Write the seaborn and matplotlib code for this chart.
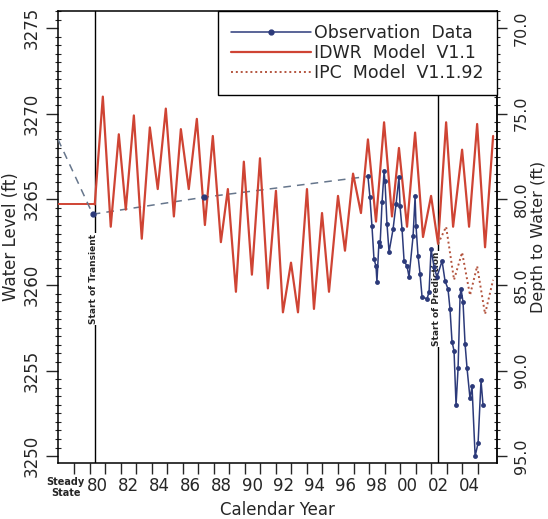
import numpy as np
import pandas as pd
import seaborn as sns
import matplotlib
matplotlib.use("Agg")
import matplotlib.pyplot as plt
from matplotlib.lines import Line2D
from matplotlib.ticker import MultipleLocator

# steady state level and event dates
steady_level = 3264.7
start_transient = 1980.32
start_prediction = 2002.45

# IDWR Model V1.1 (transient run)
idwr_year = [1980.32, 1980.84, 1981.35, 1981.87, 1982.32, 1982.84, 1983.35, 1983.87, 1984.38, 1984.90,
             1985.42, 1985.87, 1986.38, 1986.90, 1987.42, 1987.93, 1988.45, 1988.90, 1989.42, 1989.93,
             1990.45, 1990.97, 1991.48, 1992.00, 1992.45, 1992.97, 1993.42, 1994.00, 1994.45, 1994.97,
             1995.42, 1996.00, 1996.45, 1996.97, 1997.48, 1997.93, 1998.45, 1998.97, 1999.48, 1999.93,
             2000.45, 2000.97, 2001.48, 2002.00, 2002.45, 2002.97, 2003.42, 2004.00, 2004.45, 2004.97,
             2005.48, 2006.00]
idwr_level = [3264.7, 3271.0, 3263.4, 3268.8, 3264.4, 3269.9, 3262.7, 3269.2, 3265.6, 3270.3,
              3264.0, 3269.1, 3265.6, 3269.7, 3263.5, 3268.7, 3262.5, 3265.6, 3259.6, 3267.2,
              3260.6, 3267.4, 3259.8, 3265.5, 3258.4, 3261.3, 3258.4, 3265.6, 3258.6, 3264.2,
              3259.6, 3265.2, 3262.0, 3266.5, 3264.2, 3268.5, 3263.7, 3269.5, 3264.0, 3268.0,
              3263.4, 3268.9, 3262.8, 3265.2, 3262.4, 3269.5, 3263.4, 3267.9, 3263.4, 3269.4,
              3262.2, 3268.7]

# IPC Model V1.1.92 (prediction period)
ipc_year = [2002.45, 2002.97, 2003.48, 2004.00, 2004.51, 2004.97, 2005.48, 2006.00]
ipc_level = [3262.4, 3263.4, 3260.3, 3261.9, 3259.4, 3261.1, 3258.3, 3260.3]

# sparse early observations (dashed connection)
early_year = [1977.95, 1980.19, 1987.35, 1997.93]
early_level = [3268.5, 3264.13, 3265.12, 3266.34]

# observation data
obs_year = [1997.93, 1998.06, 1998.19, 1998.32, 1998.45, 1998.51, 1998.64, 1998.71, 1998.84, 1998.97,
            1999.03, 1999.16, 1999.29, 1999.55, 1999.74, 1999.93, 2000.00, 2000.13, 2000.26, 2000.45,
            2000.58, 2000.84, 2000.97, 2001.03, 2001.16, 2001.29, 2001.42, 2001.74, 2001.87, 2002.00,
            2002.19, 2002.38, 2002.71, 2002.90, 2003.09, 2003.22, 2003.35, 2003.48, 2003.61, 2003.74,
            2003.87, 2003.93, 2004.06, 2004.19, 2004.32, 2004.51, 2004.64, 2004.84, 2005.03, 2005.22,
            2005.35]
obs_level = [3266.34, 3265.12, 3263.43, 3261.51, 3261.10, 3260.17, 3262.50, 3262.27, 3264.83, 3266.63,
             3266.05, 3263.55, 3261.92, 3263.26, 3264.71, 3266.28, 3264.59, 3263.26, 3261.40, 3261.10,
             3260.47, 3262.85, 3265.17, 3263.43, 3261.69, 3260.64, 3259.30, 3259.19, 3259.59, 3262.09,
             3261.05, 3260.47, 3261.40, 3260.23, 3259.77, 3258.60, 3256.69, 3256.16, 3252.97, 3255.12,
             3259.36, 3259.77, 3259.01, 3256.57, 3255.12, 3253.37, 3254.07, 3250.00, 3250.76, 3254.42,
             3252.97]

year_labels = ["Steady\nState", "80", "82", "84", "86", "88", "90", "92", "94", "96", "98", "00", "02", "04"]
year_label_pos = [1978.45, 1980.5, 1982.5, 1984.5, 1986.5, 1988.5, 1990.5, 1992.5, 1994.5,
                  1996.5, 1998.5, 2000.5, 2002.5, 2004.5]

sns.set_style("ticks")
plt.rcParams["font.family"] = ["DejaVu Sans"]

red = "#cf4434"
navy = "#2c3a7a"

fig = plt.figure(figsize=(5.48, 5.19), dpi=100)
ax = fig.add_axes([58 / 548, 1 - 463 / 519, (497 - 58) / 548, (463 - 11) / 519])

# steady state segment
ax.plot([1977.95, start_transient], [steady_level, steady_level], color=red, lw=1.4, zorder=3)

idwr = pd.DataFrame({"year": idwr_year, "level": idwr_level})
ipc = pd.DataFrame({"year": ipc_year, "level": ipc_level})
early = pd.DataFrame({"year": early_year, "level": early_level})
obs = pd.DataFrame({"year": obs_year, "level": obs_level})

sns.lineplot(data=early, x="year", y="level", ax=ax, color="#66768c", lw=1.1,
             linestyle=(0, (5, 4)), estimator=None, zorder=3)
ax.plot(early_year[1:3], early_level[1:3], ls="none", marker="o", ms=3.5, color=navy, zorder=4)
sns.lineplot(data=idwr, x="year", y="level", ax=ax, color=red, lw=1.6, estimator=None, zorder=3)
sns.lineplot(data=ipc, x="year", y="level", ax=ax, color="#b4553f", lw=1.4,
             linestyle=(0, (1, 1.5)), estimator=None, zorder=3)
sns.lineplot(data=obs, x="year", y="level", ax=ax, color=navy, lw=1.1, marker="o",
             markersize=3.5, markeredgewidth=0, estimator=None, zorder=4)

# event lines
ax.axvline(start_transient, color="black", lw=1.0, zorder=2)
ax.axvline(start_prediction, color="black", lw=1.0, zorder=2)
ax.text(start_transient - 0.1, 3260.35, "Start of Transient", rotation=90, fontsize=6.5,
        fontweight="bold", ha="center", va="center", zorder=2.5,
        bbox=dict(facecolor="white", edgecolor="none", pad=0.5))
ax.text(start_prediction - 0.1, 3259.2, "Start of Prediction", rotation=90, fontsize=6.5,
        fontweight="bold", ha="center", va="center", zorder=2.5,
        bbox=dict(facecolor="white", edgecolor="none", pad=0.5))

ax.set_xlim(1977.95, 2006.25)
ax.set_ylim(3249.6, 3276.0)

# x axis: ticks at year boundaries, labels mid-year
ax.set_xticks(np.arange(1979, 2006))
ax.set_xticklabels([])
ax.set_xticks(year_label_pos, minor=True)
ax.set_xticklabels(year_labels, minor=True, fontsize=12)
ax.tick_params(axis="x", which="major", direction="out", length=8, width=1)
ax.tick_params(axis="x", which="minor", length=0, pad=10)
ax.get_xticklabels(minor=True)[0].set_fontsize(7)
ax.get_xticklabels(minor=True)[0].set_fontweight("bold")

ax.set_yticks([3250, 3255, 3260, 3265, 3270, 3275])
ax.set_yticklabels(["3250", "3255", "3260", "3265", "3270", "3275"], rotation=90, va="center", fontsize=12)
ax.yaxis.set_minor_locator(MultipleLocator(0.5))
ax.tick_params(axis="y", which="major", direction="out", length=9, width=1)
ax.tick_params(axis="y", which="minor", direction="inout", length=5, width=0.8)

ax.set_xlabel("Calendar Year", fontsize=12, labelpad=2)
ax.set_ylabel("Water Level (ft)", fontsize=12, labelpad=2)

# depth to water on the right
secax = ax.secondary_yaxis("right", functions=(lambda y: 3345 - y, lambda d: 3345 - d))
secax.set_yticks([70, 75, 80, 85, 90, 95], labels=["70.0", "75.0", "80.0", "85.0", "90.0", "95.0"],
                 rotation=90, va="center", fontsize=11.5)
secax.yaxis.set_minor_locator(MultipleLocator(0.5))
secax.tick_params(which="major", direction="out", length=7, width=1, pad=5)
secax.tick_params(which="minor", direction="inout", length=5, width=0.8)
secax.set_ylabel("Depth to Water (ft)", fontsize=11.5, labelpad=2)

for s in ["top", "right", "left", "bottom"]:
    ax.spines[s].set_visible(True)
    ax.spines[s].set_linewidth(1.1)
    ax.spines[s].set_color("black")
secax.spines["right"].set_linewidth(1.1)

handles = [
    Line2D([], [], color=navy, lw=1.1, marker="o", ms=3.5),
    Line2D([], [], color=red, lw=1.6),
    Line2D([], [], color="#b4553f", lw=1.4, linestyle=(0, (1, 1.5))),
]
labels = ["Observation  Data", "IDWR  Model  V1.1", "IPC  Model  V1.1.92"]
leg = ax.legend(handles, labels, loc="upper right", bbox_to_anchor=(1, 1), borderaxespad=0,
                fontsize=12.5, handlelength=4.6, handletextpad=0.2, labelspacing=0.12,
                borderpad=0.75, fancybox=False, framealpha=1, numpoints=1)
leg.get_frame().set_edgecolor("black")
leg.get_frame().set_linewidth(1.0)

fig.savefig("out.png", dpi=100)
